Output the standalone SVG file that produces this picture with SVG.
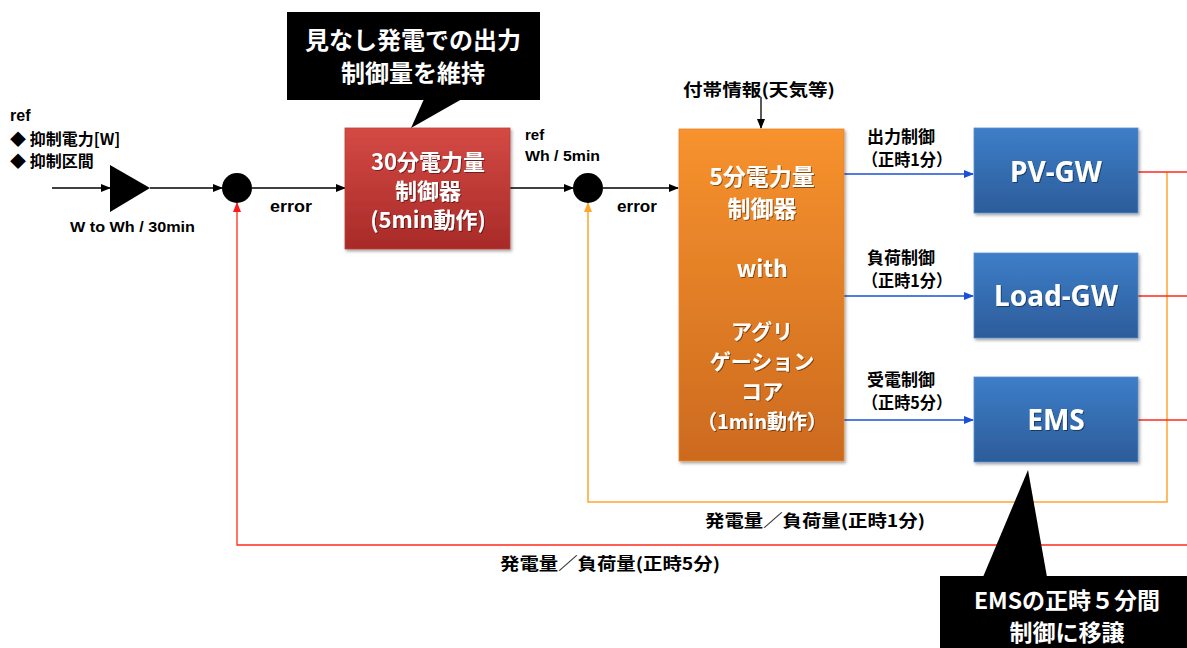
<svg xmlns="http://www.w3.org/2000/svg" width="1187" height="648" viewBox="0 0 1187 648">
<style>
.lbl{font-family:"Liberation Sans",Arial,sans-serif;font-weight:bold;fill:#000}
.jp{font-family:"Noto Sans CJK JP","Liberation Sans",sans-serif;font-weight:bold;fill:#000}
.bx{font-family:"Noto Sans CJK JP","Liberation Sans",sans-serif;font-weight:bold;fill:#fff;text-anchor:middle}
.bt{font-family:"Noto Sans","Liberation Sans",sans-serif;font-weight:bold;fill:#fff;text-anchor:middle;font-size:28px}
.k{stroke:#000;stroke-width:1.3;fill:none}
.b{stroke:#1a4fd6;stroke-width:1.3;fill:none}
.r{stroke:#ff2a1a;stroke-width:1.3;fill:none}
.o{stroke:#ffa530;stroke-width:1.5;fill:none}
</style>
<defs>
<marker id="ak" markerWidth="10" markerHeight="8" refX="9" refY="4" orient="auto" markerUnits="userSpaceOnUse"><path d="M0,0L10,4L0,8z" fill="#000"/></marker>
<marker id="ab" markerWidth="10" markerHeight="8" refX="9" refY="4" orient="auto" markerUnits="userSpaceOnUse"><path d="M0,0L10,4L0,8z" fill="#1a4fd6"/></marker>
<marker id="ar" markerWidth="10" markerHeight="8" refX="9" refY="4" orient="auto" markerUnits="userSpaceOnUse"><path d="M0,0L10,4L0,8z" fill="#ff1a1a"/></marker>
<marker id="ao" markerWidth="10" markerHeight="8" refX="9" refY="4" orient="auto" markerUnits="userSpaceOnUse"><path d="M0,0L10,4L0,8z" fill="#ffa530"/></marker>
<linearGradient id="gr" x1="0" y1="0" x2="0" y2="1"><stop offset="0" stop-color="#d44a44"/><stop offset="1" stop-color="#a82a28"/></linearGradient>
<linearGradient id="go" x1="0" y1="0" x2="0" y2="1"><stop offset="0" stop-color="#f7922e"/><stop offset="1" stop-color="#cc6a1f"/></linearGradient>
<linearGradient id="gb" x1="0" y1="0" x2="0" y2="1"><stop offset="0" stop-color="#3d7ec8"/><stop offset="1" stop-color="#2c5c9a"/></linearGradient>
<filter id="sh" x="-10%" y="-10%" width="130%" height="130%"><feDropShadow dx="1.5" dy="2" stdDeviation="1.5" flood-color="#000" flood-opacity="0.35"/></filter>
<filter id="ts" x="-5%" y="-20%" width="110%" height="140%"><feDropShadow dx="1" dy="1" stdDeviation="0.6" flood-color="#000" flood-opacity="0.45"/></filter>
</defs>
<rect width="1187" height="648" fill="#fff"/>

<g id="connectors">
<line x1="52" y1="188" x2="110" y2="188" class="k" marker-end="url(#ak)"/>
<line x1="150" y1="188" x2="222" y2="188" class="k" marker-end="url(#ak)"/>
<line x1="252" y1="188" x2="345" y2="188" class="k" marker-end="url(#ak)"/>
<line x1="510" y1="188" x2="573" y2="188" class="k" marker-end="url(#ak)"/>
<line x1="603" y1="188" x2="678" y2="188" class="k" marker-end="url(#ak)"/>
<line x1="761" y1="97" x2="761" y2="128" class="k" marker-end="url(#ak)"/>
<line x1="844" y1="174" x2="973" y2="174" class="b" marker-end="url(#ab)"/>
<line x1="844" y1="296" x2="973" y2="296" class="b" marker-end="url(#ab)"/>
<line x1="844" y1="420" x2="973" y2="420" class="b" marker-end="url(#ab)"/>
<polyline points="1167,172 1167,502 588,502 588,203" class="o" marker-end="url(#ao)"/>
<line x1="1138" y1="172" x2="1187" y2="172" class="r"/>
<line x1="1138" y1="296" x2="1187" y2="296" class="r"/>
<line x1="1138" y1="420" x2="1187" y2="420" class="r"/>
<polyline points="1187,545 237,545 237,203" class="r" marker-end="url(#ar)"/>
</g>

<g id="ref-label">
<text x="10" y="121" class="lbl" font-size="16">ref</text>
<text x="10" y="145" class="jp" font-size="16">◆ 抑制電力[W]</text>
<text x="10" y="167" class="jp" font-size="16">◆ 抑制区間</text>
</g>

<g id="converter">
<polygon points="110,165 150,188 110,212" fill="#000"/>
<text x="70" y="232" class="lbl" font-size="15" textLength="125" lengthAdjust="spacingAndGlyphs">W to Wh / 30min</text>
</g>

<g id="sum1">
<circle cx="237" cy="188" r="15" fill="#000"/>
<text x="270" y="212" class="lbl" font-size="16" textLength="42" lengthAdjust="spacingAndGlyphs">error</text>
</g>

<g id="ctrl30">
<rect x="345" y="128" width="165" height="121" fill="url(#gr)" stroke="#b8403a" stroke-width="0.8" filter="url(#sh)"/>
<g filter="url(#ts)">
<text x="428" y="170" class="bx" font-size="22">30分電力量</text>
<text x="428" y="199" class="bx" font-size="22">制御器</text>
<text x="428" y="228" class="bx" font-size="22">(5min動作)</text>
</g>
</g>

<g id="callout1">
<rect x="287" y="12" width="253" height="88" fill="#000"/>
<polygon points="424,99 462,99 411,128" fill="#000"/>
<text x="413" y="49" class="bx" font-size="24">見なし発電での出力</text>
<text x="413" y="82" class="bx" font-size="24">制御量を維持</text>
</g>

<g id="ref2">
<text x="525" y="140" class="lbl" font-size="15">ref</text>
<text x="525" y="161" class="lbl" font-size="15" textLength="75" lengthAdjust="spacingAndGlyphs">Wh / 5min</text>
</g>

<g id="sum2">
<circle cx="588" cy="188" r="15" fill="#000"/>
<text x="617" y="212" class="lbl" font-size="16" textLength="40" lengthAdjust="spacingAndGlyphs">error</text>
</g>

<g id="info">
<text x="683" y="96" class="jp" font-size="17" textLength="152" lengthAdjust="spacingAndGlyphs">付帯情報(天気等)</text>
</g>

<g id="ctrl5">
<rect x="679" y="129" width="165" height="332" fill="url(#go)" stroke="#e8852a" stroke-width="0.8" filter="url(#sh)"/>
<g filter="url(#ts)">
<text x="762" y="185" class="bx" font-size="23">5分電力量</text>
<text x="762" y="217" class="bx" font-size="23">制御器</text>
<text x="762" y="277" class="bx" font-size="23">with</text>
<text x="762" y="339" class="bx" font-size="21">アグリ</text>
<text x="762" y="369" class="bx" font-size="21">ゲーション</text>
<text x="762" y="399" class="bx" font-size="21">コア</text>
<text x="762" y="429" class="bx" font-size="20">（1min動作）</text>
</g>
</g>

<g id="lbl-out">
<text x="867" y="143" class="jp" font-size="17">出力制御</text>
<text x="862" y="166" class="jp" font-size="17" textLength="90" lengthAdjust="spacingAndGlyphs">（正時1分）</text>
</g>
<g id="lbl-load">
<text x="867" y="264" class="jp" font-size="17">負荷制御</text>
<text x="862" y="287" class="jp" font-size="17" textLength="90" lengthAdjust="spacingAndGlyphs">（正時1分）</text>
</g>
<g id="lbl-recv">
<text x="867" y="386" class="jp" font-size="17">受電制御</text>
<text x="862" y="409" class="jp" font-size="17" textLength="90" lengthAdjust="spacingAndGlyphs">（正時5分）</text>
</g>

<g id="pvgw">
<rect x="974" y="128" width="164" height="85" fill="url(#gb)" stroke="#5a8fd0" stroke-width="0.8" filter="url(#sh)"/>
<text x="1056" y="182" class="bt" filter="url(#ts)">PV-GW</text>
</g>
<g id="loadgw">
<rect x="974" y="253" width="164" height="85" fill="url(#gb)" stroke="#5a8fd0" stroke-width="0.8" filter="url(#sh)"/>
<text x="1056" y="306" class="bt" filter="url(#ts)">Load-GW</text>
</g>
<g id="ems">
<rect x="974" y="377" width="164" height="85" fill="url(#gb)" stroke="#5a8fd0" stroke-width="0.8" filter="url(#sh)"/>
<text x="1056" y="430" class="bt" filter="url(#ts)">EMS</text>
</g>

<g id="fb-labels">
<text x="705" y="527" class="jp" font-size="17" textLength="220" lengthAdjust="spacingAndGlyphs">発電量／負荷量(正時1分)</text>
<text x="500" y="570" class="jp" font-size="17" textLength="220" lengthAdjust="spacingAndGlyphs">発電量／負荷量(正時5分)</text>
</g>

<g id="callout2">
<polygon points="983,577 1028,470 1047,577" fill="#000"/>
<rect x="940" y="576" width="247" height="72" fill="#000"/>
<text x="1067" y="609" class="bx" font-size="23">EMSの正時５分間</text>
<text x="1067" y="641" class="bx" font-size="23">制御に移譲</text>
</g>
</svg>
